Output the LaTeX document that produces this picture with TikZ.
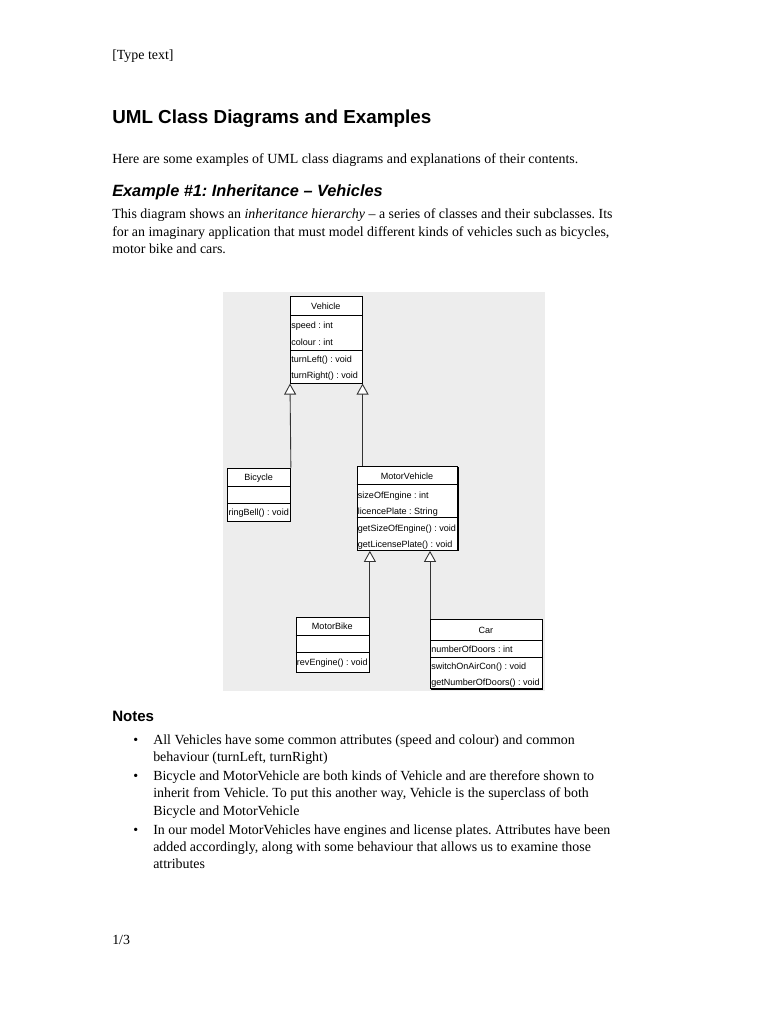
\documentclass[tikz,border=0pt]{standalone}
\usepackage{fontspec}
\setmainfont{Liberation Serif}
\newfontfamily\headfont{Liberation Sans}
\usepackage{tikz}
\usetikzlibrary{arrows.meta, shadows}
\frenchspacing

\begin{document}
\begin{tikzpicture}[x=0.797pt,y=-0.797pt]
\def\pxl{0.797pt}
\tikzset{body/.style={anchor=base west,inner sep=0pt,font=\fontsize{11.1}{14}\selectfont},
         classbox/.style={draw,fill=white,line width=0.7pt,anchor=north west,inner sep=0pt,
           drop shadow={shadow xshift=0.8pt,shadow yshift=-0.8pt,fill=black,opacity=1}},
         classname/.style={inner sep=0pt,font=\headfont\fontsize{7.2}{8}\selectfont},
         member/.style={anchor=west,inner sep=0pt,font=\headfont\fontsize{7.2}{8}\selectfont},
         inherit/.style={line width=0.7pt,color=black!80,
           -{Triangle[open,fill=white,length=11*\pxl,width=12*\pxl]}}}
% Page
\useasboundingbox[fill=white](0,0) rectangle (768,1024);
\node[body] (typetext) at (112,59) {[Type text]};
\node[anchor=base west,inner sep=0pt,font=\headfont\bfseries\fontsize{15}{18}\selectfont]
  (title) at (112,123) {UML Class Diagrams and Examples};
\node[body] (intro) at (112,163) {Here are some examples of UML class diagrams and explanations of their contents.};
\node[anchor=base west,inner sep=0pt,font=\headfont\bfseries\itshape\fontsize{13}{16}\selectfont]
  (example) at (112,196) {Example \#1: Inheritance – Vehicles};
\node[body] (para1) at (112,218.5) {This diagram shows an \textit{inheritance hierarchy} – a series of classes and their subclasses. Its};
\node[body] (para2) at (112,236) {for an imaginary application that must model different kinds of vehicles such as bicycles,};
\node[body] (para3) at (112,253.5) {motor bike and cars.};

% Diagram background
\fill[black!7](223,292) rectangle (545,691);

% Vehicle
\node[classbox,minimum width=71.7*\pxl,minimum height=86.7*\pxl] (vehicle) at (290,296) {};
\draw[line width=0.7pt](290,315.7)--+(71.7,0);
\draw[line width=0.7pt](290,350)--+(71.7,0);
\node[classname] (vehiclename) at (325.8,306) {Vehicle};
\node[member] (speed) at (291,326) {speed : int};
\node[member] (colour) at (291,342.3) {colour : int};
\node[member] (turnleft) at (291,360) {turnLeft() : void};
\node[member] (turnright) at (291,376) {turnRight() : void};

% Bicycle
\node[classbox,minimum width=62.7*\pxl,minimum height=53*\pxl] (bicycle) at (227.3,467.7) {};
\draw[line width=0.7pt](227.3,486)--+(62.7,0);
\draw[line width=0.7pt](227.3,503.3)--+(62.7,0);
\node[classname] (bicyclename) at (258.7,478.3) {Bicycle};
\node[member] (ringbell) at (228.3,512.7) {ringBell() : void};

% MotorVehicle
\node[classbox,minimum width=100.6*\pxl,minimum height=84*\pxl] (motorvehicle) at (356.7,466) {};
\draw[line width=0.7pt](356.7,484)--+(100.6,0);
\draw[line width=0.7pt](356.7,517.3)--+(100.6,0);
\node[classname] (motorvehiclename) at (407,476) {MotorVehicle};
\node[member] (sizeofengine) at (357.7,496) {sizeOfEngine : int};
\node[member] (licenceplate) at (357.7,511.7) {licencePlate : String};
\node[member] (getsize) at (357.7,529) {getSizeOfEngine() : void};
\node[member] (getlicense) at (357.7,545) {getLicensePlate() : void};

% MotorBike
\node[classbox,minimum width=73.3*\pxl,minimum height=55*\pxl] (motorbike) at (295.7,616.7) {};
\draw[line width=0.7pt](295.7,635.7)--+(73.3,0);
\draw[line width=0.7pt](295.7,652.7)--+(73.3,0);
\node[classname] (motorbikename) at (332.3,626) {MotorBike};
\node[member] (revengine) at (296.7,663.3) {revEngine() : void};

% Car
\node[classbox,minimum width=111.7*\pxl,minimum height=69*\pxl] (car) at (430,619.3) {};
\draw[line width=0.7pt](430,640)--+(111.7,0);
\draw[line width=0.7pt](430,657.3)--+(111.7,0);
\node[classname] (carname) at (485.8,630) {Car};
\node[member] (numberofdoors) at (431,649.3) {numberOfDoors : int};
\node[member] (switchaircon) at (431,667.3) {switchOnAirCon() : void};
\node[member] (getnumber) at (431,682.7) {getNumberOfDoors() : void};

% Inheritance arrows
\draw[inherit](bicycle.north east)--(vehicle.south west);
\draw[inherit](vehicle.south east |- motorvehicle.north)--(vehicle.south east);
\draw[inherit](motorbike.north east)--(motorbike.north east |- motorvehicle.south);
\draw[inherit](car.north west)--(car.north west |- motorvehicle.south);

% Notes
\node[anchor=base west,inner sep=0pt,font=\headfont\bfseries\fontsize{12}{14}\selectfont]
  (notes) at (112,721) {Notes};
\node[body] (bullet1) at (133,744) {\textbullet};
\node[body] (note1a) at (153,744) {All Vehicles have some common attributes (speed and colour) and common};
\node[body] (note1b) at (153,761.3) {behaviour (turnLeft, turnRight)};
\node[body] (bullet2) at (133,780) {\textbullet};
\node[body] (note2a) at (153,780) {Bicycle and MotorVehicle are both kinds of Vehicle and are therefore shown to};
\node[body] (note2b) at (153,797.3) {inherit from Vehicle. To put this another way, Vehicle is the superclass of both};
\node[body] (note2c) at (153,815) {Bicycle and MotorVehicle};
\node[body] (bullet3) at (133,834) {\textbullet};
\node[body] (note3a) at (153,834) {In our model MotorVehicles have engines and license plates. Attributes have been};
\node[body] (note3b) at (153,851.3) {added accordingly, along with some behaviour that allows us to examine those};
\node[body] (note3c) at (153,868.7) {attributes};
\node[body] (pagenum) at (112,944) {1/3};
\end{tikzpicture}
\end{document}
